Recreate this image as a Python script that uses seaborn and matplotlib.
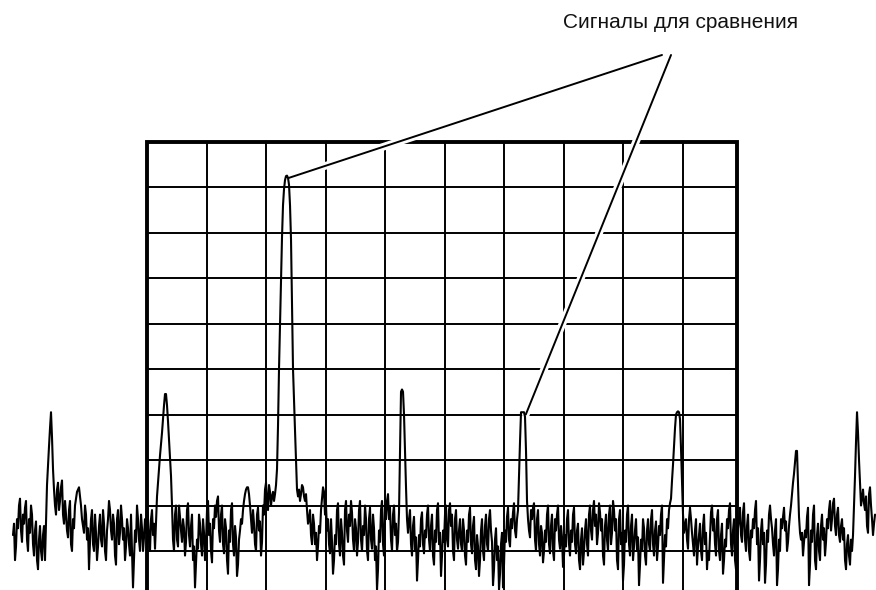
import numpy as np
import pandas as pd
import matplotlib
matplotlib.use("Agg")
import matplotlib.pyplot as plt
import matplotlib.patheffects as pe
from matplotlib.patches import Rectangle
import seaborn as sns

# Sweep positions are in screen divisions (0 = left edge of the graticule),
# levels in dB: 10 dB per division, top graticule line = 0 dB.
sweep_start_div = -2.252
sweep_step_div = 1 / 59.5

# Even sweep points
level_db = [
    -86.5, -92, -83, -80, -85.5, -82, -80.5, -87.5, -83, -80, -88.5, -85.5, -92, -87.5, -90, -86.5, -92,
    -75.5, -67, -59.5, -72, -80,
    -76.5, -81, -76, -82,
    -79, -85.5, -81, -88.5, -83,
    -80, -77, -76, -80,
    -84.5, -80, -87.5, -94,
    -83, -88.5, -82, -92, -84.5, -87.5, -81, -90, -85.5,
    -79, -85.5, -82, -91, -83, -88.5, -80, -87.5, -92, -83, -88.5,
    -82, -98, -85.5, -80, -87.5, -82, -90, -83,
    -80, -87.5, -83, -86.5, -89.5,
    -78, -72, -66.5, -61, -55.5, -58, -65.5, -73.5, -87.5,
    -82, -87.5, -80, -85.5, -83, -91, -81, -86.5, -84.5, -92, -98, -87.5, -82,
    -88.5, -83, -92, -81, -86.5, -90, -83, -80, -79, -85.5, -82, -88.5, -83, -92, -85.5, -81, -88.5, -84.5, -95.5, -87.5,
    -83, -81, -77.5, -76, -77.5, -83,
    -81, -88.5, -82, -85.5, -91, -80, -76.5, -79, -75.5, -80, -77,
    -77.5, -72, -50, -29.5, -14, -8.5, -7.5, -9.5, -21.5, -50, -63.5, -76.5,
    -76.5, -77.5, -76, -79, -81, -83, -86.5, -82, -88.5, -92, -84.5, -81, -76, -82,
    -85.5, -88.5, -83, -95, -86.5, -81, -88.5, -83, -91, -81, -85.5, -82, -79, -87.5, -83, -91, -81, -87.5,
    -84.5, -80, -90, -83, -87.5, -82, -92, -98.5, -85.5, -81, -88.5, -80, -79, -83, -87.5, -82, -86.5, -90,
    -81.5, -55, -55, -68, -83,
    -83, -88.5, -84.5, -90, -96.5, -86.5, -83, -88.5, -85.5, -82, -87.5, -84.5, -91, -85.5, -81, -88.5,
    -95.5, -85.5, -82, -87.5, -81, -84.5, -90, -83, -87.5, -85.5,
    -88.5, -83, -91, -85.5, -82, -88.5, -84.5, -92, -86.5, -95.5, -85.5, -90, -84.5, -88.5,
    -83, -85.5, -97.5, -87.5, -92, -98.5, -88.5, -98, -85.5, -82.5, -87.5, -83, -81.5, -85.5,
    -83, -73.5, -59.5, -59.5, -60.5, -79, -85.5,
    -81, -80.5, -87.5, -83, -88.5, -84.5, -92.5, -85.5, -82, -88.5, -84.5, -90,
    -83, -82, -87.5, -84.5, -93.5, -86.5, -83, -88.5, -85.5, -82, -88.5, -85.5,
    -92, -87.5, -93, -85.5, -88.5, -82, -85.5, -81, -84.5, -88.5, -79.5, -85.5, -91, -84.5, -87.5,
    -82, -88.5, -79, -85.5, -92, -83, -88.5, -96.5, -85.5, -82, -88.5, -84.5, -92, -85.5, -90,
    -97.5, -87.5, -83, -91, -85.5, -88.5, -83, -88.5, -85.5, -92, -84.5, -82, -97, -86.5, -83, -81,
    -78.5, -71, -63, -59.5, -59.5, -67.5, -82, -84.5,
    -87.5, -83, -83, -88.5, -85.5, -93, -86.5, -90, -84.5, -88.5, -94, -92, -81.5,
    -85.5, -88.5, -83, -90, -86.5, -95, -87.5, -83, -81, -88.5, -85.5, -92,
    -88.5, -83, -86.5, -81.5, -87.5, -84.5, -90, -85.5, -83, -81, -88.5, -96.5, -85.5,
    -88.5, -97, -85.5, -82, -83, -88.5, -85.5, -97.5, -87.5, -83, -82.5, -85.5, -90,
    -84.5, -80, -75, -70.5, -68, -82.5, -87.5,
    -91, -85.5, -82.5, -97.5, -85.5, -82, -92, -86.5, -90, -84.5, -87.5, -91,
    -83, -81, -85.5, -79.5, -84.5, -82, -86.5, -84.5,
    -87.5, -92, -88.5, -91, -87.5,
    -86.5, -73.5, -59.5, -70, -80,
    -76.5, -81, -84.5, -77.5, -80, -86.5, -82,
]

# Odd sweep points (each one lies between two even points)
level_db_mid = [
    -84, -89, -85, -78.5, -88, -84, -79, -90, -86, -82, -91, -83.5, -94, -84.5, -92, -84.5, -84,
    -71, -63, -65, -76.5, -82,
    -75, -79, -74.5, -84,
    -82, -87, -79, -90, -85,
    -78.5, -76.5, -78, -83,
    -86, -82, -85, -88,
    -81, -90, -86, -89, -82, -89, -84, -92, -83,
    -81, -87.5, -84, -93, -81, -86, -83, -85, -89, -85, -91,
    -90, -92, -88, -83, -90, -85, -87, -86,
    -83, -90, -81, -84, -84,
    -75, -69, -64, -58, -55.5, -61.5, -69.5, -80, -90,
    -80, -89, -82.5, -88, -85, -88, -79.5, -89, -82, -89, -93, -89.5, -84,
    -91, -86, -88, -79, -84, -92.5, -85, -82.5, -78, -88, -80, -90.5, -85, -95, -88, -79.5, -91, -87, -93, -85.5,
    -84, -79, -76.5, -76, -80, -86,
    -84, -90, -80.5, -83.5, -88, -82, -75, -81, -77, -78, -79,
    -75.5, -62.5, -40, -21, -10.5, -7.6, -8, -14, -36, -57, -70, -78,
    -79, -75.5, -78, -77.5, -84, -81, -88.5, -84, -86, -89, -86, -78.5, -77, -80,
    -83, -90.5, -88, -92, -88.5, -79.5, -91, -86, -93, -79, -88, -84.5, -81.5, -90, -85, -88, -79, -90,
    -86.5, -83, -92, -80.5, -89.5, -85, -89, -94, -88, -79, -91, -83, -77.5, -80.5, -90, -80, -84, -88,
    -68, -54.5, -60, -76, -86,
    -81, -91, -82.5, -87, -92, -89, -81.5, -90.5, -87, -80, -90, -82, -93, -88, -79.5, -86,
    -91, -88, -80, -89, -79.5, -82, -92, -81, -89.5, -83,
    -90, -85.5, -93, -88, -80.5, -90.5, -82.5, -94, -89, -92, -83, -92, -82, -90,
    -81, -88, -94, -85, -89, -95, -86, -93, -88, -80.5, -89, -85, -79.5, -87,
    -81, -66, -59.5, -59.5, -68, -83, -87,
    -83, -79.5, -90, -81, -91, -86, -90, -88, -80, -90.5, -82, -92,
    -85.5, -80, -89.5, -87, -91, -89, -81, -91, -88, -80.5, -90.5, -84,
    -94, -85, -90, -83, -91, -80, -87.5, -79, -82, -86, -81.5, -83, -93, -82, -90,
    -80, -86, -81, -83, -94, -81, -86, -93, -88, -80, -91, -82, -89, -83, -87,
    -93, -90, -85, -93, -83, -90, -81, -91, -83.5, -89, -86.5, -80, -92, -89, -85, -79.5,
    -74.5, -67, -60, -59.3, -61, -75, -86, -83,
    -89.5, -80.5, -86, -91, -83, -89, -84, -92, -82, -86, -90, -87, -80,
    -83, -91, -81, -92, -84, -92, -89, -85, -79.5, -91, -83, -94,
    -85, -80.5, -88, -79.5, -90, -82, -92, -87, -85, -79, -85, -92, -83,
    -86, -93, -88, -80, -85, -91, -83, -94, -90, -85, -80.5, -83.5, -88,
    -82, -77.5, -73, -68, -75, -86, -86,
    -88, -87, -80.5, -93, -88, -80, -94, -84, -92, -82, -85, -88,
    -85, -79, -83, -78.5, -86.5, -80.5, -88, -83,
    -85, -94, -86.5, -93, -90,
    -80, -66, -64, -75, -78.5,
    -79.5, -78, -86, -76, -83, -84,
]

# Graticule
graticule_cols = 9.916          # right edge of the screen, in divisions
inner_cols = list(range(1, 10))
row_levels_db = list(range(-10, -100, -10))
screen_bottom_db = -100

# The two signals picked out for comparison (approximate positions, divisions)
compare_near_div = [2.35, 6.30]
label = "Сигналы для сравнения"

# Merge even and odd sweep points into one trace
n_mid = min(len(level_db_mid), len(level_db) - 1)
level = np.empty(len(level_db) + n_mid)
level[0:2 * n_mid + 1:2] = level_db[:n_mid + 1]
level[1:2 * n_mid:2] = level_db_mid[:n_mid]
if len(level_db) > n_mid + 1:
    level[2 * n_mid + 1:] = level_db[n_mid + 1:]
freq = sweep_start_div + sweep_step_div * np.arange(len(level))
trace = pd.DataFrame({"freq": freq, "level": level})

sns.set_theme(style="white")
plt.rcParams["font.family"] = ["Liberation Sans", "DejaVu Sans"]

fig = plt.figure(figsize=(8.76, 5.90), dpi=100, facecolor="white")
ax = fig.add_axes([0, 0, 1, 1])
ax.set_xlim(-2.4706, 12.252)
ax.set_ylim(-98.57, 31.1)
ax.set_axis_off()

ax.vlines(inner_cols, screen_bottom_db, 0, color="black", lw=1.4, zorder=1)
ax.hlines(row_levels_db, 0, graticule_cols, color="black", lw=1.4, zorder=1)
ax.add_patch(Rectangle((0, screen_bottom_db), graticule_cols, -screen_bottom_db,
                       fill=False, ec="black", lw=2.8, zorder=2, joinstyle="miter"))

# Leader lines from the caption to each compared signal (under the trace)
tips = []
for f0 in compare_near_div:
    idx = np.flatnonzero(np.abs(freq - f0) < 0.15)
    best = idx[level[idx] == level[idx].max()][-1]
    tips.append((freq[best] + 0.03, level[best] - 0.5))

to_data = ax.transData.inverted()
apexes = [(0.7557, 0.9068), (0.7660, 0.9068)]
halo = [pe.Stroke(linewidth=5.5, foreground="white"), pe.Normal()]
for (ax_x, ax_y), (tx, ty) in zip(apexes, tips):
    sx, sy = to_data.transform(ax.transAxes.transform((ax_x, ax_y)))
    ax.plot([sx, tx], [sy, ty], color="black", lw=1.4, zorder=3,
            solid_capstyle="round", path_effects=halo)

sns.lineplot(data=trace, x="freq", y="level", ax=ax, color="black", lw=1.5,
             sort=False, estimator=None, legend=False, zorder=4)

fig.text(0.7768, 0.9517, label, ha="center", va="baseline", fontsize=15, color="#111111")

fig.savefig("out.png", dpi=100, facecolor="white")
